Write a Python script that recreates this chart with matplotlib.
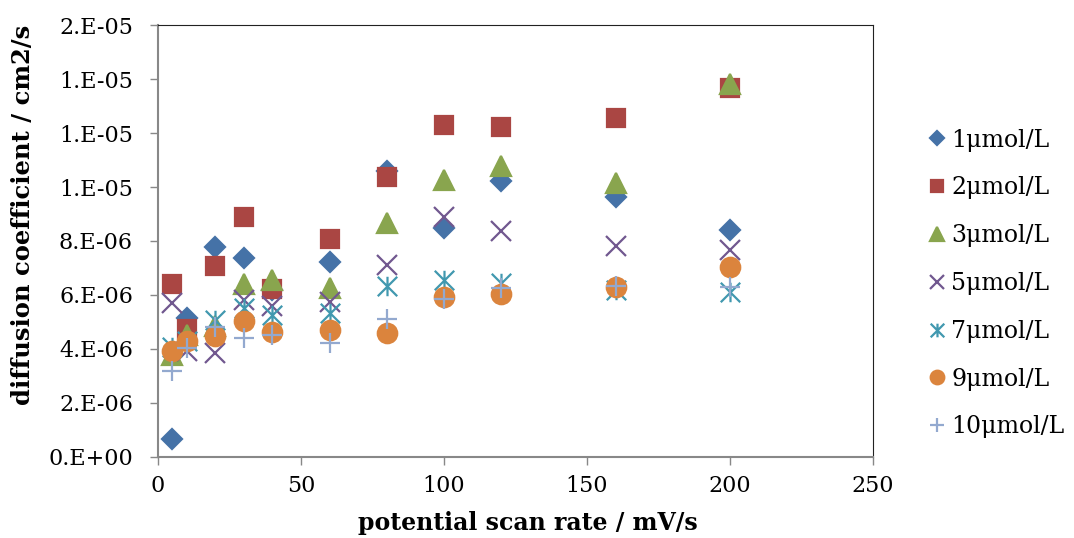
import numpy as np
import matplotlib.pyplot as plt
from matplotlib.path import Path

plt.rcParams['font.family'] = ['DejaVu Serif']

################# Data
rate = [5, 10, 20, 30, 40, 60, 80, 100, 120, 160, 200]   # mV/s

D_1 = [0.67e-6, 5.15e-6, 7.78e-6, 7.37e-6, 6.2e-6, 7.22e-6, 10.6e-6, 8.48e-6, 10.23e-6, 9.62e-6, 8.41e-6]
D_2 = [6.4e-6, 4.73e-6, 7.07e-6, 8.9e-6, 6.21e-6, 8.06e-6, 10.38e-6, 12.28e-6, 12.23e-6, 12.57e-6, 13.66e-6]
D_3 = [3.76e-6, 4.5e-6, 4.85e-6, 6.4e-6, 6.55e-6, 6.25e-6, 8.66e-6, 10.26e-6, 10.78e-6, 10.16e-6, 13.8e-6]
D_5 = [5.71e-6, 3.94e-6, 3.84e-6, 5.81e-6, 5.59e-6, 5.75e-6, 7.11e-6, 8.9e-6, 8.38e-6, 7.83e-6, 7.67e-6]
D_7 = [4.07e-6, 4.3e-6, 5.07e-6, 5.5e-6, 5.26e-6, 5.33e-6, 6.33e-6, 6.55e-6, 6.44e-6, 6.19e-6, 6.12e-6]
D_9 = [3.93e-6, 4.3e-6, 4.48e-6, 5.05e-6, 4.64e-6, 4.7e-6, 4.58e-6, 5.91e-6, 6.03e-6, 6.31e-6, 7.03e-6]
D_10 = [3.2e-6, 4.03e-6, 4.83e-6, 4.4e-6, 4.52e-6, 4.23e-6, 5.1e-6, 5.84e-6, 6.25e-6, 6.34e-6, 6.31e-6]

labels = ['1μmol/L', '2μmol/L', '3μmol/L', '5μmol/L', '7μmol/L', '9μmol/L', '10μmol/L']

yticks = [0, 2e-6, 4e-6, 6e-6, 8e-6, 10e-6, 12e-6, 14e-6, 16e-6]
ytick_labels = ['0.E+00', '2.E-06', '4.E-06', '6.E-06', '8.E-06',
                '1.E-05', '1.E-05', '1.E-05', '2.E-05']
xticks = [0, 50, 100, 150, 200, 250]

# excel style asterisk: x with a vertical bar
ast = Path([(-0.5, -0.5), (0.5, 0.5), (-0.5, 0.5), (0.5, -0.5), (0, -0.5), (0, 0.5)],
           [Path.MOVETO, Path.LINETO, Path.MOVETO, Path.LINETO, Path.MOVETO, Path.LINETO])

series = [D_1, D_2, D_3, D_5, D_7, D_9, D_10]
colors = ['#4572A7', '#AA4643', '#89A54E', '#71588F', '#4198AF', '#DB843D', '#93A9CF']
markers = ['D', 's', '^', 'x', ast, 'o', '+']
sizes = [10, 13, 14, 14, 14, 14, 15]

fig = plt.figure(figsize=(10.74, 5.38), dpi=100)
ax = fig.add_axes([0.1471, 0.1506, 0.6657, 0.8029])

for i in range(len(series)):
    ax.plot(rate, series[i], linestyle='none', marker=markers[i], ms=sizes[i],
            color=colors[i], mec=colors[i], mew=1.6, label=labels[i])

ax.set_xlim(0, 250)
ax.set_ylim(0, 16e-6)
ax.set_xticks(xticks)
ax.set_yticks(yticks)
ax.set_yticklabels(ytick_labels)
ax.tick_params(direction='out', length=6, width=1, color='#888888', labelsize=16)
ax.tick_params(axis='y', pad=12)
ax.tick_params(axis='x', pad=7)
for s in ['left', 'bottom']:
    ax.spines[s].set_color('#888888')
    ax.spines[s].set_linewidth(1.5)
for s in ['top', 'right']:
    ax.spines[s].set_color('#222222')
    ax.spines[s].set_linewidth(0.8)

ax.set_xlabel('potential scan rate / mV/s', fontsize=17, fontweight='bold')
ax.set_ylabel('diffusion coefficient / cm2/s', fontsize=17.5, fontweight='bold')
ax.xaxis.set_label_coords(0.517, -0.125)
ax.yaxis.set_label_coords(-0.172, 0.56)

fig.legend(loc='center left', bbox_to_anchor=(0.866, 0.473), frameon=False, fontsize=17,
           handlelength=0.6, handletextpad=0.3, labelspacing=1.05, numpoints=1,
           markerscale=0.7, borderpad=0, borderaxespad=0)

plt.savefig('out.png', dpi=100)
